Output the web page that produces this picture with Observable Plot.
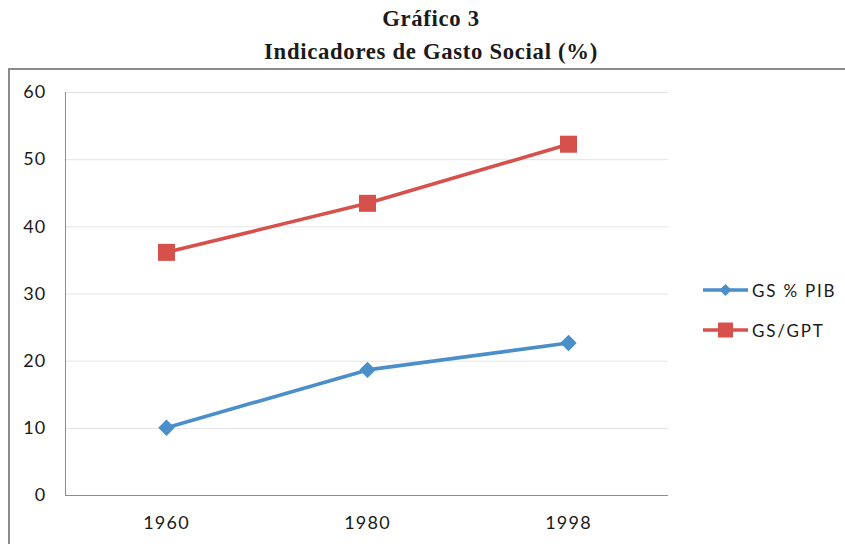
<!DOCTYPE html>
<html>
<head>
<meta charset="utf-8">
<script src="https://cdn.jsdelivr.net/npm/d3@7"></script>
<script src="https://cdn.jsdelivr.net/npm/@observablehq/plot@0.6"></script>
<style>
  html, body { margin: 0; padding: 0; background: #fff; width: 845px; height: 544px; overflow: hidden; }
  .t { position: absolute; left: 0; width: 862px; text-align: center; font-family: "Liberation Serif", serif; font-weight: bold; font-size: 22.7px; line-height: 22.7px; color: #1a1a1a; letter-spacing: 0.7px; white-space: nowrap; }
  #box { position: absolute; left: 8px; top: 68px; width: 860px; height: 500px; border: 2px solid #8c8c8c; box-sizing: border-box; }
  #chart { position: absolute; left: 0; top: 68px; }
  #legend { position: absolute; left: 700px; top: 276px; font-family: Lato, sans-serif; font-size: 17px; letter-spacing: 1.8px; color: #1a1a1a; }
  .li { display: flex; align-items: center; height: 28px; margin-bottom: 12px; }
  .li span { margin-left: 2px; }
</style>
</head>
<body>
<div class="t" style="top:8px">Gráfico 3</div>
<div class="t" style="top:41px">Indicadores de Gasto Social (%)</div>
<div id="box"></div>
<div id="chart"></div>
<div id="legend"></div>
<script>
const years = ["1960", "1980", "1998"];
const seriesNames = ["GS % PIB", "GS/GPT"];
const gsPib = [10.1, 18.7, 22.7];
const gsGpt = [36.2, 43.5, 52.3];
const yTicks = [0, 10, 20, 30, 40, 50, 60];
const colors = ["#4a8fc9", "#d6504c"];
const symbols = ["diamond2", "square"];
const radii = [7.4, 9.6];

const data = [];
years.forEach((y, i) => data.push({year: y, series: seriesNames[0], value: gsPib[i]}));
years.forEach((y, i) => data.push({year: y, series: seriesNames[1], value: gsGpt[i]}));

const marks = [
  Plot.gridY(yTicks.filter(d => d > 0), {stroke: "#e4e4e4", strokeOpacity: 1}),
  Plot.frame({anchor: "left", stroke: "#8c8c8c"}),
  Plot.ruleY([0], {stroke: "#8c8c8c"}),
  Plot.axisY({ticks: yTicks, tickSize: 0, tickPadding: 19, label: null, fontSize: 18, fill: "#1a1a1a"}),
  Plot.axisX({tickSize: 0, tickPadding: 21, label: null, fontSize: 18, fill: "#1a1a1a"})
];
seriesNames.forEach((s, k) => {
  const d = data.filter(r => r.series === s);
  marks.push(Plot.line(d, {x: "year", y: "value", stroke: colors[k], strokeWidth: 3.6}));
  marks.push(Plot.dot(d, {x: "year", y: "value", fill: colors[k], stroke: "none", symbol: symbols[k], r: radii[k]}));
});

const chart = Plot.plot({
  width: 845,
  height: 476,
  marginLeft: 65,
  marginRight: 177,
  marginTop: 24,
  marginBottom: 49,
  style: {fontFamily: "Lato, sans-serif", fontSize: "18px", letterSpacing: "1.2px", background: "transparent", overflow: "visible"},
  x: {type: "point", domain: years, padding: 0.5},
  y: {domain: [0, 60]},
  marks
});
document.getElementById("chart").appendChild(chart);

// legend
const leg = document.getElementById("legend");
seriesNames.forEach((s, k) => {
  const row = document.createElement("div");
  row.className = "li";
  const ns = "http://www.w3.org/2000/svg";
  const svg = document.createElementNS(ns, "svg");
  svg.setAttribute("width", 50); svg.setAttribute("height", 28);
  const line = document.createElementNS(ns, "line");
  line.setAttribute("x1", 3); line.setAttribute("x2", 48); line.setAttribute("y1", 14); line.setAttribute("y2", 14);
  line.setAttribute("stroke", colors[k]); line.setAttribute("stroke-width", 3.6);
  svg.appendChild(line);
  const p = document.createElementNS(ns, "path");
  const sym = k === 0 ? d3.symbol(d3.symbolDiamond2, 92) : d3.symbol(d3.symbolSquare, 225);
  p.setAttribute("d", sym());
  p.setAttribute("transform", "translate(25.5,14)");
  p.setAttribute("fill", colors[k]);
  svg.appendChild(p);
  row.appendChild(svg);
  const t = document.createElement("span");
  t.textContent = s;
  row.appendChild(t);
  leg.appendChild(row);
});
</script>
</body>
</html>
